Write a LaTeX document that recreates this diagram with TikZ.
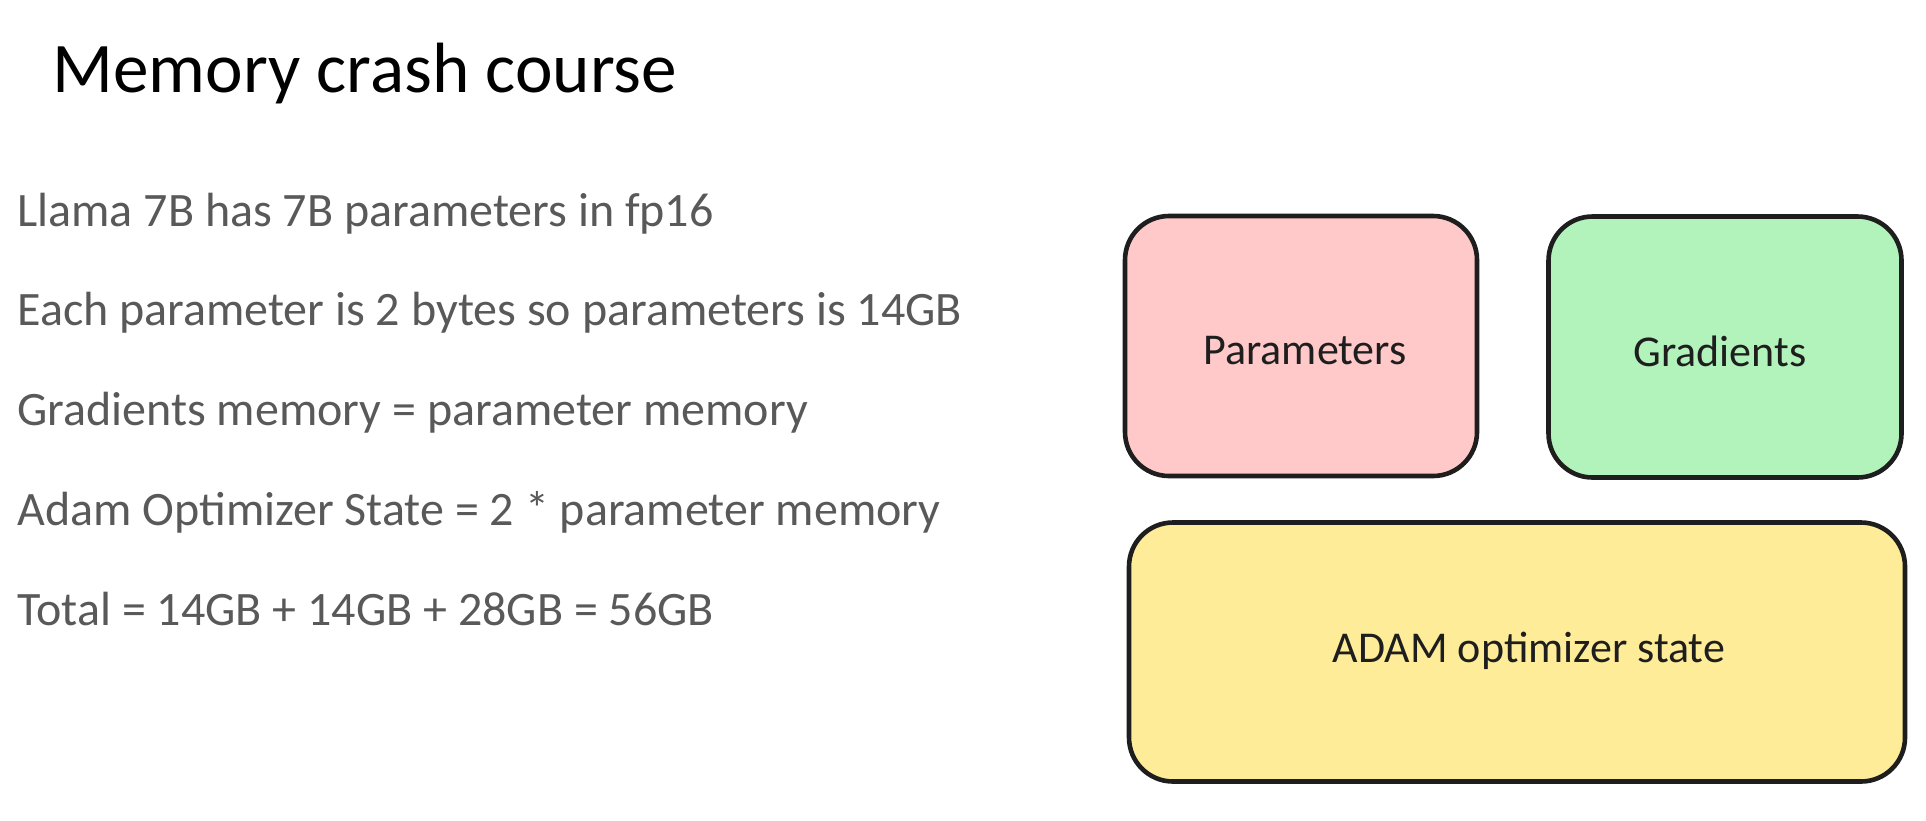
\documentclass[tikz,border=0pt]{standalone}
\usepackage{fontspec}
\setmainfont{Carlito}
\begin{document}
\begin{tikzpicture}[x=0.5pt,y=-0.5pt,
  txt/.style={anchor=base west, inner sep=0pt, text=bodygray, font=\fontsize{24}{28}\selectfont},
  memblock/.style={draw=inkdark, line width=2.3pt, rounded corners=22pt, inner sep=0pt},
  blocklabel/.style={text=inkdark, font=\fontsize{22}{26}\selectfont}]
\definecolor{bodygray}{HTML}{595959}
\definecolor{inkdark}{HTML}{1E1E1E}
\definecolor{pinkfill}{HTML}{FFC9C9}
\definecolor{greenfill}{HTML}{B2F2BB}
\definecolor{yellowfill}{HTML}{FFEC99}
\useasboundingbox (0,0) rectangle (1926,820);
\node[anchor=base west, inner sep=0pt, font=\fontsize{35.6}{40}\selectfont] (title) at (52,92) {Memory crash course};
\node[txt] (l1) at (17,226) {Llama 7B has 7B parameters in fp16};
\node[txt] (l2) at (17,325) {Each parameter is 2 bytes so parameters is 14GB};
\node[txt] (l3) at (17,425) {Gradients memory = parameter memory};
\node[txt] (l4) at (17,525) {Adam Optimizer State = 2 * parameter memory};
\node[txt] (l5) at (17,625) {Total = 14GB + 14GB + 28GB = 56GB};
\node[memblock, fill=pinkfill, minimum width=176pt, minimum height=130pt] (params) at (1301,346) {};
\node[memblock, fill=greenfill, minimum width=176.5pt, minimum height=130.5pt] (grads) at (1725,347) {};
\node[memblock, fill=yellowfill, minimum width=388pt, minimum height=129.5pt] (adam) at (1517,652) {};
\node[blocklabel] (paramsl) at (1305,351) {Parameters};
\node[blocklabel] (gradsl) at (1720,351) {Gradients};
\node[blocklabel] (adaml) at (1529,651) {ADAM optimizer state};
\end{tikzpicture}
\end{document}
